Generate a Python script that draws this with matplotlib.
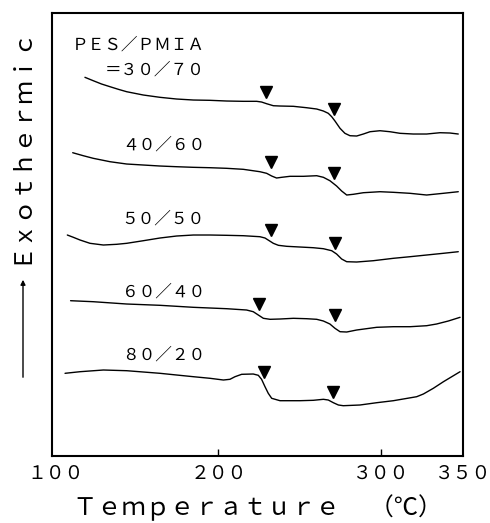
import matplotlib
matplotlib.use("Agg")
import matplotlib.pyplot as plt

plt.rcParams['font.family'] = ['Noto Sans CJK JP', 'DejaVu Sans']

# Temperature (deg C) and DSC signal (arbitrary units)
t_3070 = [118.2, 123.3, 128.4, 133.6, 138.7, 143.8, 154.0, 164.2, 174.4, 184.7, 194.9,
          205.1, 215.3, 223.5, 226.5, 229.6, 233.7, 237.8, 246.0, 254.1, 260.3, 264.4,
          267.4, 269.5, 271.5, 274.6, 277.6, 280.7, 284.8, 288.9, 293.0, 299.1, 305.2,
          311.4, 319.5, 327.7, 335.9, 342.0, 347.1]
y_3070 = [378.7, 375.3, 372.0, 369.3, 366.7, 364.3, 361.0, 358.7, 357.0, 356.0, 355.7,
          355.0, 354.7, 354.7, 354.0, 352.3, 350.3, 350.0, 349.7, 348.3, 347.0, 345.0,
          342.7, 339.3, 335.0, 327.7, 322.7, 320.3, 320.0, 322.0, 324.3, 325.3, 324.3,
          322.7, 322.0, 322.0, 323.3, 323.0, 322.0]

t_4060 = [110.7, 117.2, 123.3, 133.6, 143.8, 154.0, 164.2, 174.4, 184.7, 194.9, 205.1,
          215.3, 225.5, 229.6, 232.7, 235.7, 238.8, 243.9, 252.1, 260.3, 264.4, 268.4,
          272.5, 275.6, 278.7, 282.7, 288.9, 299.1, 307.3, 317.5, 327.7, 337.9, 347.1]
y_4060 = [303.3, 300.3, 297.7, 294.3, 292.0, 291.0, 290.0, 289.3, 288.7, 288.3, 287.7,
          286.7, 284.3, 282.7, 280.0, 278.0, 278.7, 279.7, 279.7, 280.3, 278.7, 275.3,
          270.0, 265.0, 261.0, 261.7, 263.3, 264.3, 263.7, 262.7, 261.0, 262.7, 264.3]

t_5050 = [107.4, 111.1, 115.2, 121.3, 129.5, 137.6, 143.8, 154.0, 164.2, 174.4, 184.7,
          194.9, 205.1, 215.3, 225.5, 228.6, 231.2, 233.7, 236.8, 241.9, 250.0, 258.2,
          264.4, 269.5, 272.5, 275.6, 278.7, 284.8, 295.0, 307.3, 317.5, 327.7, 337.9,
          347.1]
y_5050 = [221.0, 218.7, 216.0, 212.7, 211.0, 211.7, 212.7, 215.3, 218.0, 220.0, 221.0,
          221.0, 220.7, 220.3, 219.3, 218.0, 215.3, 212.7, 210.7, 209.7, 209.0, 208.3,
          207.3, 205.3, 202.0, 197.0, 194.3, 194.0, 195.3, 197.7, 199.3, 201.0, 202.7,
          204.3]

t_6040 = [109.4, 123.3, 143.8, 164.2, 184.7, 205.1, 217.3, 221.4, 224.5, 227.6, 231.7,
          237.8, 246.0, 254.1, 260.3, 264.4, 268.4, 271.5, 274.6, 278.7, 284.8, 297.1,
          307.3, 317.5, 327.7, 333.8, 341.0, 348.2]
y_6040 = [155.3, 154.3, 152.0, 150.7, 148.7, 147.3, 146.0, 144.3, 141.0, 137.7, 136.7,
          137.0, 137.7, 137.3, 136.7, 135.0, 132.0, 127.7, 124.3, 124.0, 126.0, 128.7,
          129.3, 129.3, 130.3, 132.0, 135.0, 138.7]

t_8020 = [106.0, 115.2, 129.5, 143.8, 154.0, 164.2, 174.4, 184.7, 194.9, 203.1, 207.1,
          210.2, 214.3, 221.4, 224.5, 226.5, 228.6, 230.6, 232.7, 237.8, 250.0, 258.2,
          264.4, 267.4, 270.5, 273.6, 276.6, 286.8, 297.1, 307.3, 321.6, 325.7, 331.8,
          338.0, 348.2]
y_8020 = [82.7, 84.3, 86.0, 85.3, 84.0, 82.7, 81.0, 79.3, 77.7, 76.0, 76.7, 79.3, 81.7,
          82.0, 80.7, 76.7, 69.3, 62.7, 57.7, 55.3, 55.3, 55.7, 56.7, 56.0, 53.3, 51.0,
          50.3, 51.0, 53.3, 55.3, 59.3, 62.0, 67.7, 74.3, 84.3]

# Transition markers (temperature, signal)
mk_t = [229.2, 270.9, 232.1, 270.9, 232.1, 271.7, 224.7, 271.7, 228.0, 270.5]
mk_y = [364.0, 346.7, 293.7, 282.7, 226.0, 212.7, 152.0, 141.0, 84.3, 63.7]

labels = ["４０／６０", "５０／５０", "６０／４０", "８０／２０"]
label_fy = [0.702, 0.535, 0.370, 0.228]

xtick_vals = [100, 200, 300, 350]
xtick_labels = ["１００", "２００", "３００", "３５０"]

fig = plt.figure(figsize=(4.9, 5.23), dpi=100)
ax = fig.add_axes([0.1061, 0.1281, 0.8388, 0.847])

for t, y in [(t_3070, y_3070), (t_4060, y_4060), (t_5050, y_5050),
             (t_6040, y_6040), (t_8020, y_8020)]:
    ax.plot(t, y, color='black', lw=1.0, solid_joinstyle='round',
            solid_capstyle='round')

ax.plot(mk_t, mk_y, linestyle='none', marker='v', color='black', markersize=8.5)

ax.set_xlim(98.0, 350.0)
ax.set_ylim(0, 443)
ax.set_yticks([])
ax.set_xticks(xtick_vals)
ax.set_xticklabels(xtick_labels, fontsize=13.5)
ax.tick_params(axis='x', direction='in', length=5, width=1.0, pad=5)
ticks = ax.xaxis.get_major_ticks()
ticks[0].tick1line.set_visible(False)
ticks[-1].tick1line.set_visible(False)
for s in ax.spines.values():
    s.set_linewidth(1.5)

lx = 0.372
ax.text(lx, 0.928, "ＰＥＳ／ＰＭＩＡ", transform=ax.transAxes, ha='right',
        va='center', fontsize=12)
ax.text(lx, 0.871, "＝３０／７０", transform=ax.transAxes, ha='right',
        va='center', fontsize=12)
for lab, fy in zip(labels, label_fy):
    ax.text(lx, fy, lab, transform=ax.transAxes, ha='right', va='center',
            fontsize=12)

fig.text(258 / 490, 1 - 515 / 523, "Ｔｅｍｐｅｒａｔｕｒｅ　 （℃）",
         ha='center', va='baseline', fontsize=17.5)
fig.text(20 / 490, 1 - 145 / 523, "Ｅｘｏｔｈｅｒｍｉｃ", rotation=90,
         ha='center', va='center', fontsize=17.2)
fig.add_artist(matplotlib.patches.FancyArrowPatch(
    (23 / 490, 1 - 380 / 523), (23 / 490, 1 - 277 / 523),
    transform=fig.transFigure, arrowstyle='-|>', mutation_scale=7,
    color='black', lw=1.0))

fig.savefig("out.png", dpi=100)
